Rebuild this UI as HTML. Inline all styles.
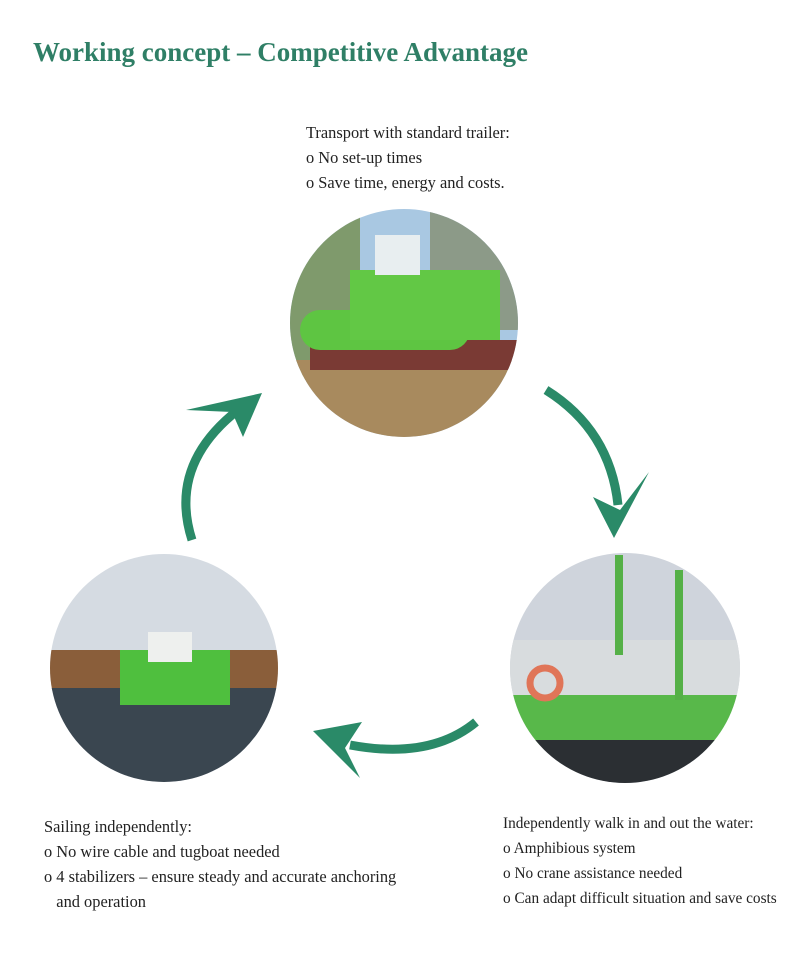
<!DOCTYPE html>
<html><head><style>
body{margin:0;width:800px;height:962px;background:#fff;position:relative;overflow:hidden;font-family:"Liberation Serif",serif;}
.t{position:absolute;line-height:25px;color:#222;white-space:nowrap}
h1{position:absolute;left:33px;top:37px;margin:0;font-size:27px;font-weight:bold;color:#2f7f66;}
</style></head><body>
<h1>Working concept – Competitive Advantage</h1>
<div class="t" style="left:306px;top:120px;font-size:16.4px">Transport with standard trailer:<br>o No set-up times<br>o Save time, energy and costs.</div>
<div class="t" style="left:44px;top:814px;font-size:16.4px">Sailing independently:<br>o No wire cable and tugboat needed<br>o 4 stabilizers – ensure steady and accurate anchoring<br>&nbsp;&nbsp;&nbsp;and operation</div>
<div class="t" style="left:503px;top:811px;font-size:15.3px">Independently walk in and out the water:<br>o Amphibious system<br>o No crane assistance needed<br>o Can adapt difficult situation and save costs</div>
<svg width="800" height="962" style="position:absolute;left:0;top:0">
<defs>
<clipPath id="c1"><circle cx="404" cy="323" r="114"/></clipPath>
<clipPath id="c2"><circle cx="164" cy="668" r="114"/></clipPath>
<clipPath id="c3"><circle cx="625" cy="668" r="115"/></clipPath>
</defs>
<g clip-path="url(#c1)">
<rect x="280" y="200" width="250" height="250" fill="#a9c8e2"/>
<rect x="280" y="200" width="80" height="180" fill="#7f9a6c"/>
<rect x="430" y="210" width="100" height="120" fill="#8c9a88"/>
<rect x="280" y="360" width="250" height="90" fill="#a88a5e"/>
<rect x="310" y="340" width="210" height="30" fill="#7a3a34"/>
<rect x="300" y="310" width="170" height="40" rx="20" fill="#5ec542"/>
<rect x="350" y="270" width="150" height="70" fill="#62c845"/>
<rect x="375" y="235" width="45" height="40" fill="#e8eef0"/>
</g>
<g clip-path="url(#c2)">
<rect x="40" y="550" width="250" height="240" fill="#d5dbe2"/>
<rect x="40" y="650" width="250" height="40" fill="#8a5e3a"/>
<rect x="40" y="688" width="250" height="100" fill="#3a4650"/>
<rect x="120" y="650" width="110" height="55" fill="#4fbf3e"/>
<rect x="148" y="632" width="44" height="30" fill="#eef0ee"/>
</g>
<g clip-path="url(#c3)">
<rect x="505" y="550" width="250" height="240" fill="#cfd4dc"/>
<rect x="505" y="640" width="250" height="60" fill="#d8dcde"/>
<rect x="505" y="695" width="250" height="50" fill="#58b84a"/>
<rect x="505" y="740" width="250" height="50" fill="#2b2f33"/>
<circle cx="545" cy="683" r="15" fill="none" stroke="#e07558" stroke-width="7"/>
<rect x="615" y="555" width="8" height="100" fill="#55b047"/>
<rect x="675" y="570" width="8" height="130" fill="#55b047"/>
</g>
<g fill="none" stroke="#2a8a68" stroke-width="9" stroke-linecap="butt">
<path d="M192 540 Q168 465 238 410"/>
<path d="M546 390 Q610 430 618 505"/>
<path d="M476 722 Q430 760 350 745"/>
</g>
<g fill="#2a8a68">
<polygon points="262,393 186,410 232,412 243,437"/>
<polygon points="614,538 593,497 620,510 649,472"/>
<polygon points="313,731 362,722 345,748 360,778"/>
</g>
</svg>
</body></html>
